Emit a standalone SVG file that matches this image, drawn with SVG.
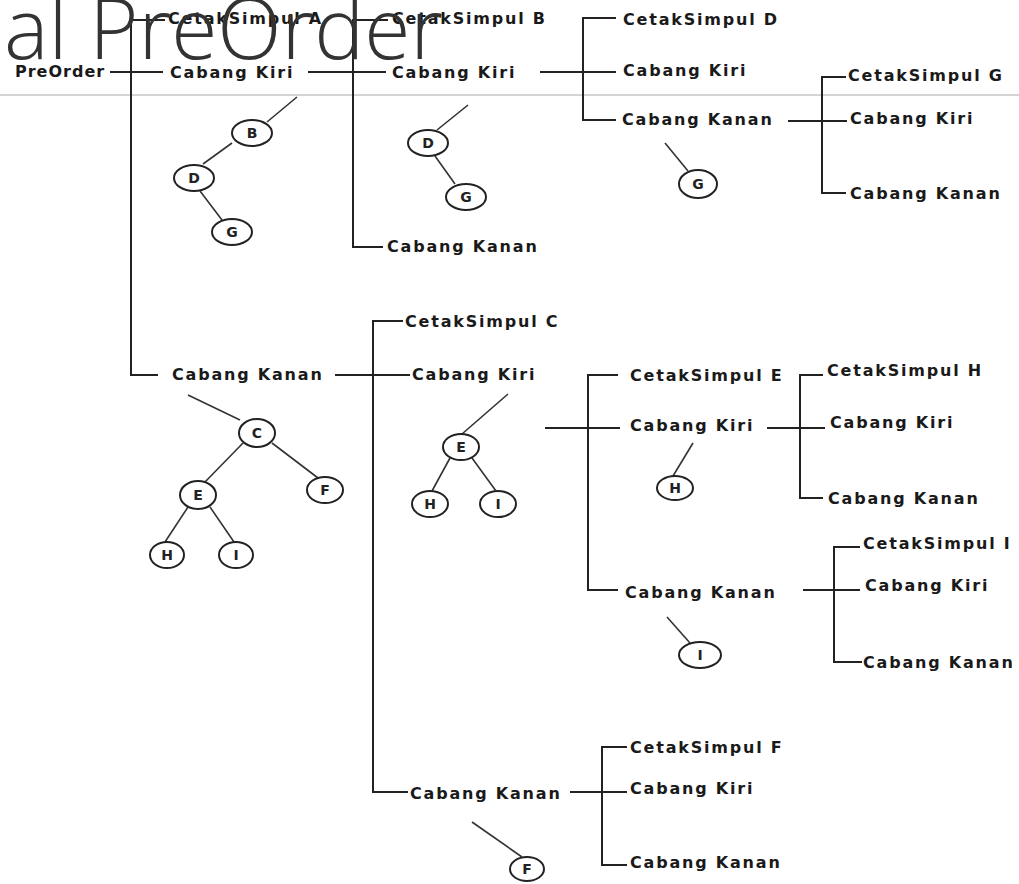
<svg xmlns="http://www.w3.org/2000/svg" width="1019" height="884" viewBox="0 0 1019 884">
  <style>
    .lbl { font-family: "DejaVu Sans", Verdana, sans-serif; font-weight: bold; font-size: 16px; letter-spacing: 1.8px; fill: #1a1a1a; }
    .wire { stroke: #222; stroke-width: 2; fill: none; }
    .edge { stroke: #333; stroke-width: 1.6; fill: none; }
    .vtx ellipse { fill: #fff; stroke: #222; stroke-width: 2; }
    .vtx text { font-family: "DejaVu Sans", Verdana, sans-serif; font-weight: bold; font-size: 14px; fill: #222; text-anchor: middle; }
    .title { font-family: "Open Sans", "Noto Sans", sans-serif; font-weight: 300; font-size: 84px; fill: #333; }
  </style>

  <rect width="1019" height="884" fill="#fff"/>
  <line x1="0" y1="95" x2="1019" y2="95" stroke="#aaa" stroke-width="1"/>

  <!-- bracket connectors of the PreOrder call tree -->
  <g id="connectors">
    <path class="wire" d="M110,72 H163"/>
    <path class="wire" d="M165,20 H131 V375 H158"/>
    <path class="wire" d="M308,72 H386"/>
    <path class="wire" d="M388,20 H353 V247 H383"/>
    <path class="wire" d="M540,72 H616"/>
    <path class="wire" d="M616,18 H583 V120 H616"/>
    <path class="wire" d="M788,121 H847"/>
    <path class="wire" d="M846,77 H822 V193 H846"/>
    <path class="wire" d="M335,375 H410"/>
    <path class="wire" d="M403,321 H373 V792 H408"/>
    <path class="wire" d="M545,428 H620"/>
    <path class="wire" d="M618,375 H588 V590 H618"/>
    <path class="wire" d="M767,428 H825"/>
    <path class="wire" d="M823,375 H800 V498 H823"/>
    <path class="wire" d="M803,590 H860"/>
    <path class="wire" d="M860,547 H834 V662 H862"/>
    <path class="wire" d="M570,792 H627"/>
    <path class="wire" d="M627,747 H602 V865 H627"/>

    <!-- subtree edges -->
    <path class="edge" d="M297,97 L267,122 M232,143 L203,164 M200,191 L222,220"/>
    <path class="edge" d="M468,105 L437,130 M435,156 L455,184"/>
    <path class="edge" d="M665,143 L688,171"/>
    <path class="edge" d="M188,395 L240,420 M243,443 L205,482 M272,443 L318,478 M188,507 L165,542 M210,507 L234,542"/>
    <path class="edge" d="M508,394 L462,434 M450,458 L432,491 M472,458 L496,491"/>
    <path class="edge" d="M693,443 L673,476"/>
    <path class="edge" d="M667,617 L690,643"/>
    <path class="edge" d="M472,822 L522,857"/>
  </g>

  <!-- call labels -->
  <g id="n-preorder"><text class="lbl" x="15" y="77" style="letter-spacing:1px">PreOrder</text></g>
  <g id="n-cetak-a"><text class="lbl" x="168" y="24">CetakSimpul A</text></g>
  <g id="n-kiri-a"><text class="lbl" x="170" y="78">Cabang Kiri</text></g>
  <g id="n-kanan-a"><text class="lbl" x="172" y="380">Cabang Kanan</text></g>

  <g id="n-cetak-b"><text class="lbl" x="392" y="24">CetakSimpul B</text></g>
  <g id="n-kiri-b"><text class="lbl" x="392" y="78">Cabang Kiri</text></g>
  <g id="n-kanan-b"><text class="lbl" x="387" y="252">Cabang Kanan</text></g>

  <g id="n-cetak-d"><text class="lbl" x="623" y="25">CetakSimpul D</text></g>
  <g id="n-kiri-d"><text class="lbl" x="623" y="76">Cabang Kiri</text></g>
  <g id="n-kanan-d"><text class="lbl" x="622" y="125">Cabang Kanan</text></g>

  <g id="n-cetak-g"><text class="lbl" x="848" y="81">CetakSimpul G</text></g>
  <g id="n-kiri-g"><text class="lbl" x="850" y="124">Cabang Kiri</text></g>
  <g id="n-kanan-g"><text class="lbl" x="850" y="199">Cabang Kanan</text></g>

  <g id="n-cetak-c"><text class="lbl" x="405" y="327">CetakSimpul C</text></g>
  <g id="n-kiri-c"><text class="lbl" x="412" y="380">Cabang Kiri</text></g>
  <g id="n-kanan-c"><text class="lbl" x="410" y="799">Cabang Kanan</text></g>

  <g id="n-cetak-e"><text class="lbl" x="630" y="381">CetakSimpul E</text></g>
  <g id="n-kiri-e"><text class="lbl" x="630" y="431">Cabang Kiri</text></g>
  <g id="n-kanan-e"><text class="lbl" x="625" y="598">Cabang Kanan</text></g>

  <g id="n-cetak-h"><text class="lbl" x="827" y="376">CetakSimpul H</text></g>
  <g id="n-kiri-h"><text class="lbl" x="830" y="428">Cabang Kiri</text></g>
  <g id="n-kanan-h"><text class="lbl" x="828" y="504">Cabang Kanan</text></g>

  <g id="n-cetak-i"><text class="lbl" x="863" y="549">CetakSimpul I</text></g>
  <g id="n-kiri-i"><text class="lbl" x="865" y="591">Cabang Kiri</text></g>
  <g id="n-kanan-i"><text class="lbl" x="863" y="668">Cabang Kanan</text></g>

  <g id="n-cetak-f"><text class="lbl" x="630" y="753">CetakSimpul F</text></g>
  <g id="n-kiri-f"><text class="lbl" x="630" y="794">Cabang Kiri</text></g>
  <g id="n-kanan-f"><text class="lbl" x="630" y="868">Cabang Kanan</text></g>

  <!-- subtree vertices -->
  <g id="t1-b" class="vtx"><ellipse cx="252" cy="133" rx="20" ry="13"/><text x="252" y="138">B</text></g>
  <g id="t1-d" class="vtx"><ellipse cx="194" cy="178" rx="20" ry="13"/><text x="194" y="183">D</text></g>
  <g id="t1-g" class="vtx"><ellipse cx="232" cy="232" rx="20" ry="13"/><text x="232" y="237">G</text></g>

  <g id="t2-d" class="vtx"><ellipse cx="428" cy="143" rx="20" ry="13"/><text x="428" y="148">D</text></g>
  <g id="t2-g" class="vtx"><ellipse cx="466" cy="197" rx="20" ry="13"/><text x="466" y="202">G</text></g>

  <g id="t3-g" class="vtx"><ellipse cx="698" cy="184" rx="19" ry="14"/><text x="698" y="189">G</text></g>

  <g id="t4-c" class="vtx"><ellipse cx="257" cy="433" rx="18" ry="14"/><text x="257" y="438">C</text></g>
  <g id="t4-e" class="vtx"><ellipse cx="198" cy="495" rx="18" ry="14"/><text x="198" y="500">E</text></g>
  <g id="t4-f" class="vtx"><ellipse cx="325" cy="490" rx="18" ry="13"/><text x="325" y="495">F</text></g>
  <g id="t4-h" class="vtx"><ellipse cx="167" cy="555" rx="17" ry="13"/><text x="167" y="560">H</text></g>
  <g id="t4-i" class="vtx"><ellipse cx="236" cy="555" rx="17" ry="13"/><text x="236" y="560">I</text></g>

  <g id="t5-e" class="vtx"><ellipse cx="461" cy="447" rx="18" ry="13"/><text x="461" y="452">E</text></g>
  <g id="t5-h" class="vtx"><ellipse cx="430" cy="504" rx="18" ry="13"/><text x="430" y="509">H</text></g>
  <g id="t5-i" class="vtx"><ellipse cx="498" cy="504" rx="18" ry="13"/><text x="498" y="509">I</text></g>

  <g id="t6-h" class="vtx"><ellipse cx="675" cy="488" rx="18" ry="12"/><text x="675" y="493">H</text></g>
  <g id="t7-i" class="vtx"><ellipse cx="700" cy="655" rx="21" ry="13"/><text x="700" y="660">I</text></g>
  <g id="t8-f" class="vtx"><ellipse cx="527" cy="869" rx="17" ry="12"/><text x="527" y="874">F</text></g>

  <!-- slide heading, cut off at the left edge -->
  <text class="title" x="4" y="59">al PreOrder</text>
</svg>
